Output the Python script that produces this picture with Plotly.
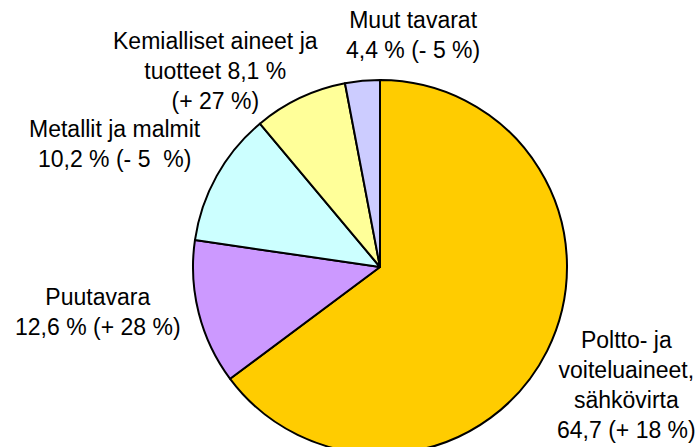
import plotly.graph_objects as go

# Data (slice sizes; label texts as printed)
categories = ["Poltto- ja voiteluaineet, sähkövirta", "Puutavara", "Metallit ja malmit",
              "Kemialliset aineet ja tuotteet", "Muut tavarat"]
values = [64.8, 12.5, 11.6, 8.1, 3.0]
label_texts = [
    "Poltto- ja<br>voiteluaineet,<br>sähkövirta<br>64,7 (+ 18 %)",
    "Puutavara<br>12,6 % (+ 28 %)",
    "Metallit ja malmit<br>10,2 % (- 5  %)",
    "Kemialliset aineet ja<br>tuotteet 8,1 %<br>(+ 27 %)",
    "Muut tavarat<br>4,4 % (- 5 %)",
]
colors = ["#FFCC00", "#CC99FF", "#CCFFFF", "#FFFF99", "#CCCCFF"]

W, H = 699, 454
cx, cy, r = 380, 267, 187
label_pos = [(626, 385), (98, 312), (115, 144), (215, 71), (413, 35)]

fig = go.Figure(go.Pie(
    labels=categories, values=values, sort=False, direction="clockwise", rotation=0,
    marker=dict(colors=colors, line=dict(color="black", width=2)),
    textinfo="none", hoverinfo="label+percent", showlegend=False,
    domain=dict(x=[(cx - r) / W, (cx + r) / W], y=[1 - (cy + r) / H, 1 - (cy - r) / H]),
))

for (x, y), t in zip(label_pos, label_texts):
    fig.add_annotation(x=x / W, y=1 - y / H, xref="paper", yref="paper", text=t,
                       showarrow=False, xanchor="center", yanchor="middle", align="center",
                       font=dict(family="Arial, Liberation Sans, sans-serif", size=23, color="black"))

fig.update_layout(width=W, height=H, margin=dict(l=0, r=0, t=0, b=0),
                  paper_bgcolor="white", plot_bgcolor="white")

fig.write_html("out.html", config={"displayModeBar": False},
               post_script="document.body.style.margin='0';document.body.style.overflow='hidden';")
